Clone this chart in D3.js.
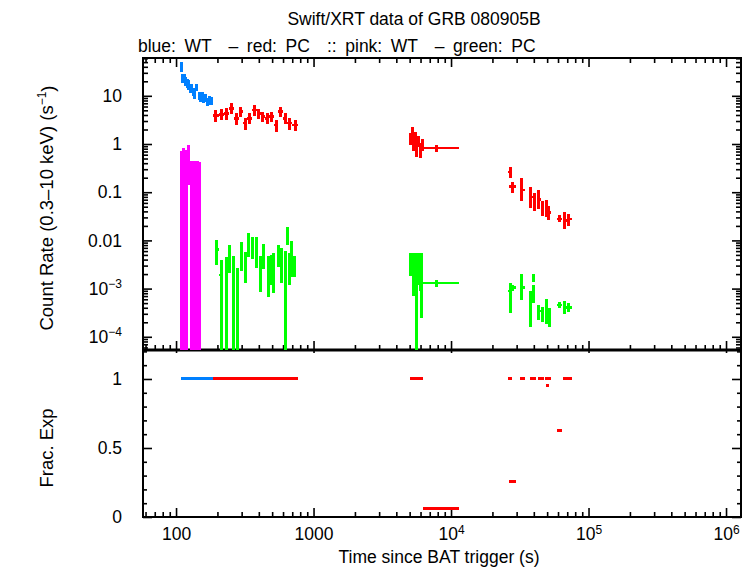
<!DOCTYPE html>
<html><head><meta charset="utf-8">
<script src="https://cdn.jsdelivr.net/npm/d3@7"></script>
<style>
body{margin:0;background:#fff}
svg{display:block}
text{font-family:"Liberation Sans",Arial,Helvetica,sans-serif;fill:#000}
</style>
</head><body><svg id="c" width="754" height="568"></svg>
<script>
// ---------- DATA ----------
// [t, tStart, tEnd, rate, rateLow, rateHigh, fracExp]
const wtBlue = [
 [109.7,108.5,111,40,31,50,1],
 [112.2,111,113.5,23,18.5,29,1],
 [114.7,113.5,116,24,19,29,1],
 [117.5,116,119,20,16,25,1],
 [120.5,119,122,18,14.5,22,1],
 [123.5,122,125,17,13.5,21,1],
 [126.5,125,128,14,11.5,17,1],
 [129.7,128,131.5,15,12,18,1],
 [133.2,131.5,135,12,9.8,14.5,1],
 [136.7,135,138.5,10.5,8.6,12.8,1],
 [141.7,138.5,145,15,12.5,18,1],
 [147,145,149,10,8.2,12,1],
 [151,149,153,9,7.3,11,1],
 [155,153,157,10,8.2,12,1],
 [159.5,157,162,8.5,7,10.3,1],
 [164.5,162,167,9.2,7.6,11,1],
 [169.5,167,172,7.5,6.1,9.2,1],
 [175,172,178,8,6.5,9.8,1],
 [182,178,186,7.8,6.4,9.5,1]
];
const pcRed = [
 [195,186,205,3.9,2.9,5.0,1],
 [214,205,224,4.1,3.1,5.3,1],
 [234,224,244,4.3,3.2,5.5,1],
 [253,244,262,5.5,4.2,7.0,1],
 [273,262,285,3.4,2.5,4.4,1],
 [295,285,306,4.7,3.6,6.0,1],
 [318,306,330,2.7,2.0,3.5,1],
 [344,330,358,3.4,2.6,4.3,1],
 [371,358,385,5.1,3.9,6.5,1],
 [398,385,412,4.3,3.3,5.4,1],
 [427,412,443,3.7,2.8,4.7,1],
 [460,443,478,3.4,2.6,4.4,1],
 [496,478,515,3.7,2.8,4.7,1],
 [535,515,555,2.5,1.8,3.2,1],
 [576,555,598,4.7,3.6,6.0,1],
 [621,598,645,3.4,2.6,4.4,1],
 [672,645,700,2.7,2.0,3.5,1],
 [734,700,771,2.5,1.9,3.2,1],
 [5095,5040,5150,1.3,0.95,1.7,1],
 [5215,5150,5280,1.7,1.3,2.3,1],
 [5350,5280,5420,1.0,0.7,1.35,1],
 [5490,5420,5560,1.4,1.0,1.8,1],
 [5640,5560,5720,0.85,0.55,1.15,1],
 [5800,5720,5880,1.15,0.85,1.5,1],
 [5965,5880,6050,0.8,0.52,1.05,1],
 [6150,6050,6250,0.95,0.7,1.25,1],
 [7900,6250,11400,0.83,0.68,0.97,0.06],
 [26850,26000,27770,0.26,0.2,0.33,1],
 [27800,26400,29700,0.13,0.096,0.16,0.26],
 [32300,31760,34520,0.11,0.066,0.2,1],
 [38000,37540,39450,0.08,0.047,0.13,1],
 [40400,39450,41480,0.062,0.041,0.096,1],
 [43500,42930,45120,0.07,0.045,0.11,1],
 [46200,45120,47430,0.045,0.032,0.065,1],
 [49500,49090,51610,0.045,0.03,0.068,0.95],
 [51000,48280,53380,0.038,0.026,0.052,1],
 [61000,59020,64190,0.028,0.024,0.033,0.63],
 [66500,65240,69760,0.026,0.017,0.039,1],
 [72000,69760,75860,0.028,0.02,0.036,1]
];
// [t, tStart, tEnd, rate, rateLow (0 = off scale), rateHigh]
const wtPink = [
 [110,108.5,111.5,0.3,0,0.72],
 [113,111.5,114.5,0.38,0,0.82],
 [116,114.5,117.5,0.35,0,0.68],
 [119,117.5,121,0.3,0,0.75],
 [123.5,121,126,0.4,0.14,0.95],
 [129,126,131.5,0.2,0,0.44],
 [134,131.5,136.5,0.22,0,0.45],
 [139,136.5,141.5,0.2,0,0.44],
 [144,141.5,146.5,0.22,0,0.45],
 [149,146.5,152,0.18,0,0.42]
];
const pcGreen = [
 [198,192,205,0.0065,0.0031,0.0101],
 [213,206,220,0.0019,0,0.0039],
 [234,229,238,0.0019,0,0.0045],
 [244,238,251,0.005,0.0021,0.0081],
 [261,255,266,0.0024,0,0.0048],
 [279,273,285,0.0013,0,0.0027],
 [299,293,305,0.0058,0.0023,0.0094],
 [319,312,326,0.0034,0.0013,0.0058],
 [336,329,343,0.0087,0.0045,0.014],
 [361,353,369,0.0075,0.0042,0.012],
 [386,378,394,0.005,0.0027,0.012],
 [413,404,422,0.0021,0.00086,0.0047],
 [432,423,441,0.005,0.0026,0.0083],
 [469,459,479,0.0024,0.00068,0.0047],
 [491,481,501,0.0026,0.0012,0.005],
 [510,500,520,0.0019,0.00081,0.0055],
 [555,543,567,0.0052,0.0028,0.0081],
 [587,574,600,0.004,0.0013,0.0068],
 [621,608,634,0.0028,0,0.006],
 [645,632,658,0.0137,0.0081,0.019],
 [667,653,681,0.0028,0.0012,0.0054],
 [693,678,708,0.0063,0.0017,0.0097],
 [721,700,745,0.0032,0.0017,0.0048],
 [5100,5040,5160,0.0035,0.0018,0.0055],
 [5230,5160,5300,0.0045,0.0025,0.0055],
 [5370,5300,5440,0.0022,0.0007,0.004],
 [5500,5440,5580,0.003,0.0012,0.0055],
 [5650,5580,5720,0.0012,0,0.0032],
 [5800,5720,5880,0.003,0.0012,0.0055],
 [5950,5880,6030,0.0025,0.0009,0.0045],
 [6120,6030,6250,0.0022,0.00025,0.0055],
 [7900,6250,11400,0.0013,0.0011,0.0015],
 [26850,26000,27770,0.0009,0.00031,0.0013],
 [27800,26400,29700,0.00105,0.0009,0.0012],
 [32300,31760,34520,0.00105,0.00058,0.002],
 [39500,38800,40200,0.0017,0.0014,0.002],
 [38000,37540,39000,0.0006,0.00016,0.0009],
 [39800,39200,40400,0.0009,0.0005,0.0012],
 [43500,42930,45120,0.00034,0.00022,0.00045],
 [46000,45120,47430,0.0003,0.0002,0.00042],
 [49500,49090,51610,0.00035,0.00018,0.0006],
 [52000,51610,53380,0.00025,0.00016,0.0004],
 [61000,59020,64190,0.00046,0.0004,0.00052],
 [66500,65240,69760,0.00041,0.0003,0.00055],
 [72000,69760,75860,0.00041,0.00033,0.0005]
];
const xMajor = [100,1000,1e4,1e5,1e6];
const yMajor = [1e-4,1e-3,0.01,0.1,1,10];
const fMajor = [0,0.5,1];
const titleText = "Swift/XRT data of GRB 080905B";
const subText = "blue: WT  \u2013 red: PC  :: pink: WT  \u2013 green: PC";
const colors = {blue:"#0080ff", red:"#ff0000", pink:"#ff00ff", green:"#00ff00"};

// ---------- LAYOUT ----------
const L=143,R=741,T=58,M=350,B=517;
const svg = d3.select("#c");
const x = d3.scaleLog().domain([57.5,1.285e6]).range([L,R]);
const yU = d3.scaleLog().domain([5.32e-5,60.9]).range([M,T]);
const yL = d3.scaleLinear().domain([0,1.21]).range([B,M]);

const xMinor=[], yMinor=[], fMinor=[];
for (let d=10; d<=1e6; d*=10) for (let k=2;k<=9;k++){const v=k*d; if(v>=57.5&&v<=1.285e6) xMinor.push(v);}
for (let d=1e-5; d<=10; d*=10) for (let k=2;k<=9;k++){const v=k*d; if(v>=5.32e-5&&v<=60.9) yMinor.push(v);}
for (let i=1;i<=12;i++){ if(i!==5&&i!==10) fMinor.push(i/10);}

svg.append("defs").append("clipPath").attr("id","cu").append("rect")
  .attr("x",L).attr("y",T).attr("width",R-L).attr("height",M-T);

function styleAxis(g){ g.select(".domain").remove(); g.selectAll(".tick line").attr("stroke","#000").attr("stroke-width",1.6); g.selectAll("text").attr("font-size",17.5).attr("font-family","Liberation Sans, Arial, sans-serif"); }

function powLabel(sel){
  sel.each(function(d){
    const t=d3.select(this); t.text(null);
    const e=Math.round(Math.log10(d));
    if(d===10||d===1||d===0.1||d===0.01||d===100||d===1000){ t.text(d3.format("")(d)); return; }
    t.append("tspan").text("10");
    t.append("tspan").attr("font-size",12).attr("dy","-0.55em").text(e<0?"\u2212"+(-e):String(e));
  });
}

// upper panel axes
svg.append("g").attr("transform",`translate(${L},0)`).call(d3.axisLeft(yU).tickValues(yMajor).tickSize(-9).tickPadding(21)).call(styleAxis).selectAll("text").call(powLabel);
svg.append("g").attr("transform",`translate(${L},0)`).call(d3.axisLeft(yU).tickValues(yMinor).tickSize(-5).tickFormat("")).call(styleAxis);
svg.append("g").attr("transform",`translate(${R},0)`).call(d3.axisRight(yU).tickValues(yMajor).tickSize(-9).tickFormat("")).call(styleAxis);
svg.append("g").attr("transform",`translate(${R},0)`).call(d3.axisRight(yU).tickValues(yMinor).tickSize(-5).tickFormat("")).call(styleAxis);
svg.append("g").attr("transform",`translate(0,${T})`).call(d3.axisTop(x).tickValues(xMajor).tickSize(-9).tickFormat("")).call(styleAxis);
svg.append("g").attr("transform",`translate(0,${T})`).call(d3.axisTop(x).tickValues(xMinor).tickSize(-5).tickFormat("")).call(styleAxis);
svg.append("g").attr("transform",`translate(0,${M})`).call(d3.axisBottom(x).tickValues(xMajor).tickSize(-9).tickFormat("")).call(styleAxis);
svg.append("g").attr("transform",`translate(0,${M})`).call(d3.axisBottom(x).tickValues(xMinor).tickSize(-5).tickFormat("")).call(styleAxis);

// lower panel axes
svg.append("g").attr("transform",`translate(${L},0)`).call(d3.axisLeft(yL).tickValues(fMajor).tickSize(-9).tickPadding(21).tickFormat(d3.format(""))).call(styleAxis);
svg.append("g").attr("transform",`translate(${L},0)`).call(d3.axisLeft(yL).tickValues(fMinor).tickSize(-4).tickFormat("")).call(styleAxis);
svg.append("g").attr("transform",`translate(${R},0)`).call(d3.axisRight(yL).tickValues(fMajor).tickSize(-9).tickFormat("")).call(styleAxis);
svg.append("g").attr("transform",`translate(${R},0)`).call(d3.axisRight(yL).tickValues(fMinor).tickSize(-4).tickFormat("")).call(styleAxis);
svg.append("g").attr("transform",`translate(0,${M})`).call(d3.axisTop(x).tickValues(xMajor).tickSize(-3).tickFormat("")).call(styleAxis);
svg.append("g").attr("transform",`translate(0,${B})`).call(d3.axisBottom(x).tickValues(xMajor).tickSize(-9).tickPadding(11)).call(styleAxis).selectAll("text").call(powLabel);
svg.append("g").attr("transform",`translate(0,${B})`).call(d3.axisBottom(x).tickValues(xMinor).tickSize(-5).tickFormat("")).call(styleAxis);

// frames
svg.append("rect").attr("x",L).attr("y",T).attr("width",R-L).attr("height",M-T).attr("fill","none").attr("stroke","#000").attr("stroke-width",2);
svg.append("rect").attr("x",L).attr("y",M).attr("width",R-L).attr("height",B-M).attr("fill","none").attr("stroke","#000").attr("stroke-width",2);
svg.append("line").attr("x1",L).attr("x2",R).attr("y1",M).attr("y2",M).attr("stroke","#000").attr("stroke-width",3);

// data in upper panel
const plot = svg.append("g").attr("clip-path","url(#cu)");
function drawSeries(data,color){
  const g=plot.append("g").attr("shape-rendering","crispEdges");
  g.selectAll("line.v").data(data).join("line").attr("class","v")
    .attr("x1",d=>x(d[0])).attr("x2",d=>x(d[0]))
    .attr("y1",d=>yU(Math.min(d[5],1e3))).attr("y2",d=>d[4]>0?yU(d[4]):M+5)
    .attr("stroke",color).attr("stroke-width",3);
  g.selectAll("line.h").data(data).join("line").attr("class","h")
    .attr("x1",d=>x(d[1])).attr("x2",d=>x(d[2]))
    .attr("y1",d=>yU(d[3])).attr("y2",d=>yU(d[3]))
    .attr("stroke",color).attr("stroke-width",2.5);
}
drawSeries(wtPink,colors.pink);
drawSeries(pcGreen,colors.green);
drawSeries(pcRed,colors.red);
drawSeries(wtBlue,colors.blue);

// frac exposure panel
function drawFrac(data,color){
  svg.append("g").attr("shape-rendering","crispEdges").selectAll("line").data(data).join("line")
    .attr("x1",d=>x(d[1])).attr("x2",d=>x(d[2]))
    .attr("y1",d=>yL(d[6])).attr("y2",d=>yL(d[6]))
    .attr("stroke",color).attr("stroke-width",3);
}
drawFrac(pcRed,colors.red);
drawFrac(wtBlue,colors.blue);

// titles
svg.append("text").attr("x",414).attr("y",25).attr("text-anchor","middle").attr("font-size",17.5).text(titleText);
svg.append("text").attr("x",138).attr("y",52).attr("font-size",17.5).style("white-space","pre").style("word-spacing","3.7px").text(subText);
svg.append("text").attr("x",439).attr("y",563).attr("text-anchor","middle").attr("font-size",17.5).text("Time since BAT trigger (s)");
const yl = svg.append("text").attr("transform","translate(53,208) rotate(-90)").attr("text-anchor","middle").attr("font-size",18.5);
yl.append("tspan").text("Count Rate (0.3\u201310 keV) (s");
yl.append("tspan").attr("font-size",12).attr("dy","-0.6em").text("\u22121");
yl.append("tspan").attr("dy","0.42em").text(")");
svg.append("text").attr("transform","translate(53,448) rotate(-90)").attr("text-anchor","middle").attr("font-size",18.5).text("Frac. Exp");
</script></body></html>
